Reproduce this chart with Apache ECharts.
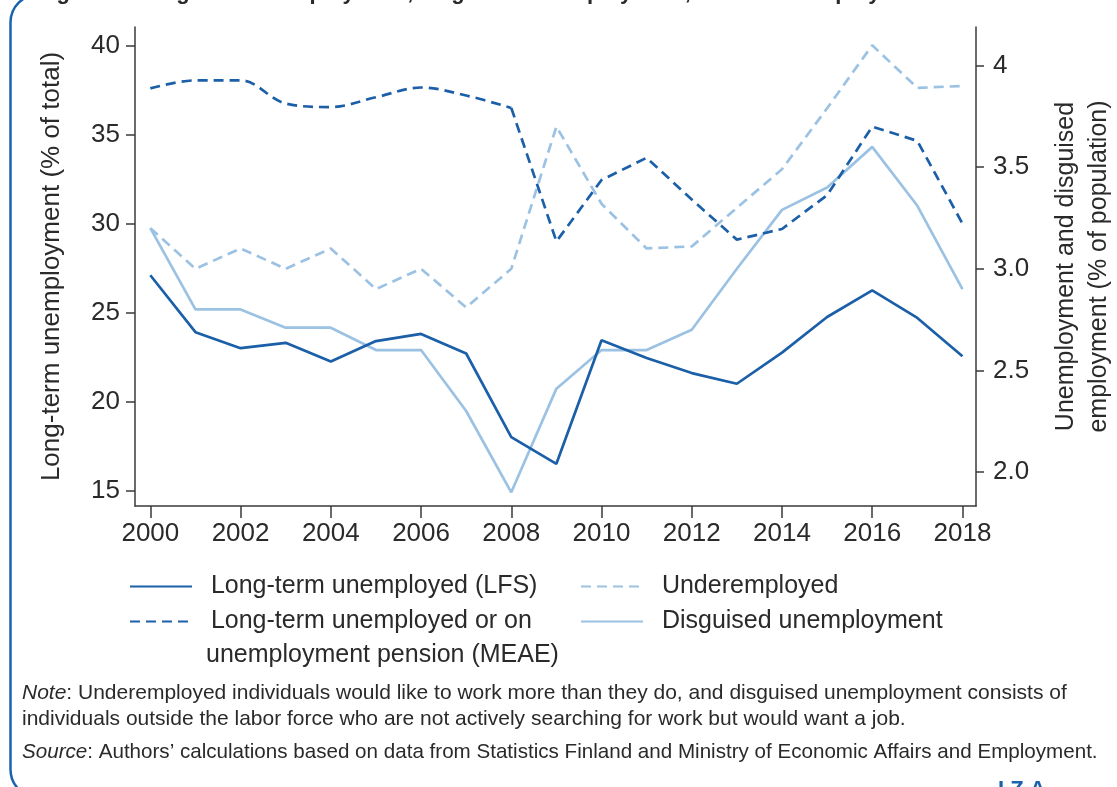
<!DOCTYPE html>
<html>
<head>
<meta charset="utf-8">
<script src="https://cdn.jsdelivr.net/npm/echarts@6/dist/echarts.min.js"></script>
<style>
html,body{margin:0;padding:0;background:#fff;}
#chart{width:1117px;height:787px;}
</style>
</head>
<body>
<div id="chart"></div>
<script>
// ---- data ----
var years = [2000,2001,2002,2003,2004,2005,2006,2007,2008,2009,2010,2011,2012,2013,2014,2015,2016,2017,2018];
var lfs = [27.1,23.9,23.0,23.3,22.25,23.4,23.8,22.7,18.0,16.5,23.45,22.45,21.6,21.0,22.75,24.75,26.25,24.7,22.55];
var meae = [37.6,38.05,38.05,36.75,36.55,37.1,37.65,37.2,36.5,29.0,32.45,33.7,31.35,29.1,29.7,31.6,35.45,34.65,30.0];
var underemployed = [3.20,3.00,3.10,3.00,3.10,2.90,3.00,2.81,3.00,3.70,3.32,3.10,3.11,3.30,3.49,3.79,4.10,3.89,3.90];
var disguised = [3.20,2.80,2.80,2.71,2.71,2.60,2.60,2.30,1.90,2.41,2.60,2.60,2.70,3.00,3.29,3.40,3.60,3.31,2.90];
var xTicks = [2000,2002,2004,2006,2008,2010,2012,2014,2016,2018];
var leftTicks = [15,20,25,30,35,40];
var rightTicks = [2.0,2.5,3.0,3.5,4.0];
var names = {
  lfs: 'Long-term unemployed (LFS)',
  meae: 'Long-term unemployed or on unemployment pension (MEAE)',
  under: 'Underemployed',
  disg: 'Disguised unemployment'
};

function pairs(vals, from, to){
  var out = [];
  for (var i = from; i <= to; i++) out.push([years[i], vals[i]]);
  return out;
}

var DARK = '#1b5fa8';
var LIGHT = '#9cc2e3';
var TXT = '#2a2a2a';
var AX = '#3a3a3a';
var FONT = 'Liberation Sans, Arial, sans-serif';

var chart = echarts.init(document.getElementById('chart'), null, {renderer:'canvas'});

var legendBase = {
  orient:'horizontal', padding:0, itemWidth:62, itemHeight:24,
  itemStyle:{opacity:0, borderWidth:0},
  textStyle:{fontFamily:FONT, fontSize:25, color:TXT},
  formatter:function(n){ return n === names.meae ? '  Long-term unemployed or on' : '  ' + n; },
  selectedMode:false
};

var option = {
  backgroundColor:'#fff',
  animation:false,
  grid:{left:135, top:27, width:841, height:479, containLabel:false, outerBoundsMode:'none'},
  xAxis:{
    type:'value', min:1999.66, max:2018.3,
    axisLine:{onZero:false, lineStyle:{color:AX, width:1.5}},
    axisTick:{customValues:xTicks, length:12, lineStyle:{color:AX, width:1.5}},
    axisLabel:{customValues:xTicks, margin:15, fontFamily:FONT, fontSize:26, color:TXT,
      formatter:function(v){ return String(Math.round(v)); }},
    splitLine:{show:false}
  },
  yAxis:[{
    type:'value', position:'left', min:14.13, max:41.05,
    name:'Long-term unemployment (% of total)', nameLocation:'middle', nameGap:70, nameRotate:90,
    nameTextStyle:{fontFamily:FONT, fontSize:26, color:TXT},
    axisLine:{show:true, lineStyle:{color:AX, width:1.5}},
    axisTick:{show:true, customValues:leftTicks, length:9, lineStyle:{color:AX, width:1.5}},
    axisLabel:{customValues:leftTicks, margin:15, fontFamily:FONT, fontSize:26, color:TXT,
      formatter:function(v){ return String(Math.round(v)); }},
    splitLine:{show:false}
  },{
    type:'value', position:'right', min:1.8325, max:4.19,
    name:'Unemployment and disguised\nemployment (% of population)', nameLocation:'middle', nameGap:74, nameRotate:90,
    nameTextStyle:{fontFamily:FONT, fontSize:25, color:TXT, lineHeight:33},
    axisLine:{show:true, lineStyle:{color:AX, width:1.5}},
    axisTick:{show:true, customValues:rightTicks, length:8, lineStyle:{color:AX, width:1.5}},
    axisLabel:{customValues:rightTicks, margin:17, fontFamily:FONT, fontSize:26, color:TXT,
      formatter:function(v){ return v === 4 ? '4' : v.toFixed(1); }},
    splitLine:{show:false}
  }],
  legend:[
    Object.assign({left:129, top:574, data:[names.lfs]}, legendBase),
    Object.assign({left:129, top:609, data:[names.meae]}, legendBase),
    Object.assign({left:580, top:574, data:[names.under]}, legendBase),
    Object.assign({left:580, top:609, data:[names.disg]}, legendBase)
  ],
  series:[
    {name:names.under, type:'line', yAxisIndex:1, symbol:'none', data:pairs(underemployed,0,18),
     lineStyle:{color:LIGHT, width:2.7, type:[10,6]}, itemStyle:{color:LIGHT}},
    {name:names.disg, type:'line', yAxisIndex:1, symbol:'none', data:pairs(disguised,0,18),
     lineStyle:{color:LIGHT, width:2.7}, itemStyle:{color:LIGHT}},
    {name:names.meae, type:'line', yAxisIndex:0, symbol:'none', smooth:0.35, data:pairs(meae,0,8),
     lineStyle:{color:DARK, width:2.7, type:[10,6]}, itemStyle:{color:DARK}},
    {name:names.meae, type:'line', yAxisIndex:0, symbol:'none', data:pairs(meae,8,18),
     lineStyle:{color:DARK, width:2.7, type:[10,6]}, itemStyle:{color:DARK}},
    {name:names.lfs, type:'line', yAxisIndex:0, symbol:'none', data:pairs(lfs,0,18),
     lineStyle:{color:DARK, width:2.7}, itemStyle:{color:DARK}}
  ],
  graphic:[
    {type:'rect', left:8, top:-8, shape:{x:0,y:0,width:1140,height:803,r:28}, silent:true,
     style:{fill:'none', stroke:'#1a63ae', lineWidth:2.5}},
    {type:'text', x:37, y:4, silent:true,
     style:{text:'Figure 3: Long-term unemployment, disguised unemployment, and underemployment',
       font:'bold 22px Liberation Sans, Arial, sans-serif', fill:TXT, textVerticalAlign:'bottom'}},
    {type:'text', x:206, y:655, silent:true,
     style:{text:'unemployment pension (MEAE)', font:'25px Liberation Sans, Arial, sans-serif', fill:TXT, textVerticalAlign:'middle'}},
    {type:'text', x:22, y:693, silent:true,
     style:{rich:{i:{fontStyle:'italic', fontFamily:FONT, fontSize:21, fill:TXT}, n:{fontFamily:FONT, fontSize:21, fill:TXT}},
       text:'{i|Note}{n|: Underemployed individuals would like to work more than they do, and disguised unemployment consists of}',
       textVerticalAlign:'middle'}},
    {type:'text', x:22, y:719, silent:true,
     style:{text:'individuals outside the labor force who are not actively searching for work but would want a job.',
       font:'21px Liberation Sans, Arial, sans-serif', fill:TXT, textVerticalAlign:'middle'}},
    {type:'text', x:22, y:752, silent:true,
     style:{rich:{i:{fontStyle:'italic', fontFamily:FONT, fontSize:20.6, fill:TXT}, n:{fontFamily:FONT, fontSize:20.6, fill:TXT}},
       text:'{i|Source}{n|: Authors\u2019 calculations based on data from Statistics Finland and Ministry of Economic Affairs and Employment.}',
       textVerticalAlign:'middle'}},
    {type:'text', x:998, y:779, silent:true,
     style:{text:'I Z A', font:'bold 22px Liberation Sans, Arial, sans-serif', fill:'#1a63ae', textVerticalAlign:'top'}}
  ]
};
chart.setOption(option);
</script>
</body>
</html>
